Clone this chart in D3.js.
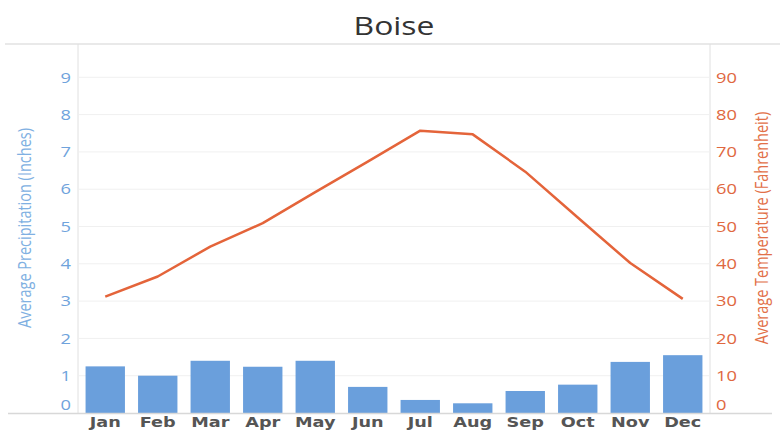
<!DOCTYPE html>
<html><head><meta charset="utf-8">
<script src="https://cdn.jsdelivr.net/npm/d3@7/dist/d3.min.js"></script>
<style>body{margin:0;background:#fff}svg{display:block}</style>
</head><body>
<svg id="c" width="780" height="430"></svg>
<script>
const months = ["Jan","Feb","Mar","Apr","May","Jun","Jul","Aug","Sep","Oct","Nov","Dec"];
const precipitation = [1.25, 1.0, 1.40, 1.24, 1.40, 0.70, 0.35, 0.26, 0.59, 0.76, 1.37, 1.55];
const temperature = [31.2, 36.6, 44.6, 50.9, 59.2, 67.4, 75.7, 74.7, 64.7, 52.4, 40.2, 30.6];
const precipTicks = [0,1,2,3,4,5,6,7,8,9];
const tempTicks = [0,10,20,30,40,50,60,70,80,90];

const svg = d3.select("#c");
const L = 79, R = 709, T = 44, B = 413;
const blue = "#6a9fdc", orange = "#e4643a";
const SX = 1.22;
const x = d3.scaleBand().domain(months).range([L, R]).paddingInner(0.25).paddingOuter(0.125);
const yP = d3.scaleLinear().domain([0, 10]).range([B, 40]);
const yT = d3.scaleLinear().domain([0, 100]).range([B, 40]);

// title
svg.append("text").attr("transform", `translate(394,35) scale(1.25,1)`).attr("text-anchor", "middle")
  .attr("font-family", "Open Sans").attr("font-size", 25.5).attr("fill", "#333").text("Boise");

// grid
svg.append("g").selectAll("line").data(precipTicks.filter(d => d > 0)).join("line")
  .attr("x1", L).attr("x2", R).attr("y1", d => yP(d)).attr("y2", d => yP(d))
  .attr("stroke", "#f0f0f0").attr("stroke-width", 1);

// frame lines
svg.append("line").attr("x1", 5).attr("x2", 780).attr("y1", T).attr("y2", T).attr("stroke", "#e2e2e2").attr("stroke-width", 1.5);
svg.append("line").attr("x1", L - 1).attr("x2", L - 1).attr("y1", T).attr("y2", B).attr("stroke", "#e0e0e0").attr("stroke-width", 1);
svg.append("line").attr("x1", R + 1).attr("x2", R + 1).attr("y1", T).attr("y2", B).attr("stroke", "#e0e0e0").attr("stroke-width", 1);

// bars
svg.append("g").selectAll("rect").data(months).join("rect")
  .attr("x", d => x(d)).attr("width", x.bandwidth())
  .attr("y", (d, i) => yP(precipitation[i])).attr("height", (d, i) => B - yP(precipitation[i]))
  .attr("fill", blue);

// baseline
svg.append("line").attr("x1", 8).attr("x2", 772).attr("y1", B + 0.5).attr("y2", B + 0.5).attr("stroke", "#d8d8d8").attr("stroke-width", 1.5);

// line
const line = d3.line().x((d, i) => x(months[i]) + x.bandwidth() / 2).y(d => yT(d));
svg.append("path").datum(temperature).attr("d", line).attr("fill", "none")
  .attr("stroke", orange).attr("stroke-width", 2.5).attr("stroke-linejoin", "round");

// left ticks
svg.append("g").selectAll("text").data(precipTicks).join("text")
  .attr("transform", d => `translate(71,${d === 0 ? yP(d) - 8 : yP(d)}) scale(${SX},1)`).attr("dy", "0.35em")
  .attr("text-anchor", "end").attr("font-family", "Open Sans").attr("font-size", 15)
  .attr("fill", "#6fa3dc").text(d => d);

// right ticks
svg.append("g").selectAll("text").data(tempTicks).join("text")
  .attr("transform", d => `translate(716,${d === 0 ? yT(d) - 8 : yT(d)}) scale(${SX},1)`).attr("dy", "0.35em")
  .attr("text-anchor", "start").attr("font-family", "Open Sans").attr("font-size", 15)
  .attr("fill", "#e0683f").text(d => d);

// x labels
svg.append("g").selectAll("text").data(months).join("text")
  .attr("transform", d => `translate(${x(d) + x.bandwidth() / 2},426.5) scale(${SX},1)`)
  .attr("text-anchor", "middle").attr("font-family", "DejaVu Sans").attr("font-weight", "bold")
  .attr("font-size", 14.5).attr("fill", "#555").text(d => d);

// axis titles
svg.append("text").attr("transform", "translate(31,228) rotate(-90) scale(1,1.2)").attr("text-anchor", "middle")
  .attr("font-family", "Open Sans").attr("font-size", 14.5).attr("fill", "#80b0e2")
  .text("Average Precipitation (Inches)");
svg.append("text").attr("transform", "translate(768,228) rotate(-90) scale(1,1.2)").attr("text-anchor", "middle")
  .attr("font-family", "Open Sans").attr("font-size", 14.5).attr("fill", "#e27048")
  .text("Average Temperature (Fahrenheit)");
</script>
</body></html>
